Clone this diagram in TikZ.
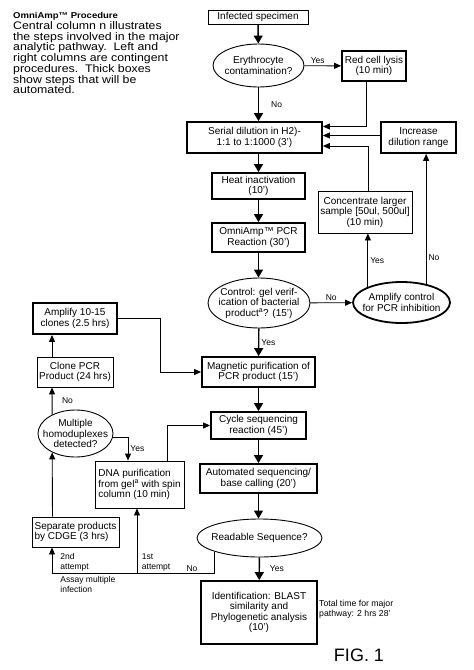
\documentclass[tikz,border=0pt]{standalone}
\usepackage{fontspec}
\setmainfont{Liberation Sans}
\newfontfamily\notefont{Liberation Sans}[FakeStretch=1.12]
\usetikzlibrary{shapes}
\usetikzlibrary{arrows.meta}

\begin{document}
\begin{tikzpicture}[x=1pt,y=-1pt]
\tikzstyle{every node}=[font=\fontsize{10}{10.5}\selectfont,inner sep=0pt,align=center]
\tikzstyle{plainbox}=[draw,line width=0.9pt]
\tikzstyle{autobox}=[draw,line width=1.8pt]
\tikzstyle{askoval}=[ellipse,draw,line width=0.9pt,inner xsep=-8pt,inner ysep=-3pt]
\tikzstyle{lbl}=[font=\fontsize{8.5}{10}\selectfont,inner sep=2pt]
\tikzstyle{mainarr}=[line width=1.4pt,-{Triangle[length=8pt,width=9pt]}]
\tikzstyle{sidearr}=[line width=0.9pt,-{Triangle[length=7pt,width=6pt]}]
\useasboundingbox (0,0) rectangle (474,670);
% note at top left
\node[anchor=north west,align=left,font=\notefont\fontsize{11}{10.7}\selectfont] (note) at (13,12.5) {\textbf{\fontsize{8.5}{10.7}\selectfont OmniAmp™ Procedure}\\Central column n illustrates\\the steps involved in the major\\analytic pathway.\ \ Left and\\right columns are contingent\\procedures.\ \ Thick boxes\\show steps that will be\\automated.};
% central column
\node[plainbox,minimum width=100,minimum height=14] (spec) at (258,17) {Infected specimen};
\node[askoval,minimum width=91,minimum height=43] (eryth) at (258.5,65.5) {Erythrocyte\\contamination?};
\node[autobox,minimum width=113,minimum height=30] (magn) at (258.5,372) {Magnetic purification of\\PCR product (15’)};
\node[autobox,minimum width=135,minimum height=31] (serial) at (254.5,137.5) {Serial dilution in H2)-\\1:1 to 1:1000 (3’)};
\node[autobox,minimum width=93,minimum height=26] (heat) at (258.5,186) {Heat inactivation\\(10’)};
\node[autobox,minimum width=93,minimum height=29] (pcr) at (258.5,237.5) {OmniAmp™ PCR\\Reaction (30’)};
\node[askoval,minimum width=102,minimum height=50] (ctrl) at (259,303) {Control: gel verif-\\ication of bacterial\\product\textsuperscript{a}? (15’)};
\node[autobox,minimum width=95,minimum height=27] (cycle) at (258.5,425.5) {Cycle sequencing\\reaction (45’)};
\node[autobox,minimum width=117,minimum height=29] (auto) at (258.5,478.5) {Automated sequencing/\\base calling (20’)};
\node[askoval,minimum width=125,minimum height=38] (read) at (259.5,538) {Readable Sequence?};
\node[autobox,minimum width=116,minimum height=63] (ident) at (259,612.5) {Identification: BLAST\\similarity and\\Phylogenetic analysis\\(10’)};
% right column
\node[autobox,minimum width=64,minimum height=30] (lysis) at (374,66) {Red cell lysis\\(10 min)};
\node[autobox,minimum width=75,minimum height=31] (incr) at (418.5,137.5) {Increase\\dilution range};
\node[plainbox,minimum width=94,minimum height=42] (conc) at (365,212) {Concentrate larger\\sample [50ul, 500ul]\\(10 min)};
\node[askoval,line width=1.8pt,minimum width=97,minimum height=41] (ampc) at (401.5,302.5) {Amplify control\\for PCR inhibition};
% left column
\node[autobox,minimum width=84,minimum height=31] (clones) at (75,318.5) {Amplify 10-15\\clones (2.5 hrs)};
\node[plainbox,minimum width=76,minimum height=30] (clone) at (75,372) {Clone PCR\\Product (24 hrs)};
\node[askoval,minimum width=75,minimum height=47] (mult) at (75.5,433.5) {Multiple\\homoduplexes\\detected?};
\node[plainbox,minimum width=89,minimum height=47,align=left] (dna) at (139.5,484.5) {DNA purification\\from gel\textsuperscript{a} with spin\\column (10 min)};
\node[plainbox,minimum width=87,minimum height=30,align=left] (sep) at (75.5,532) {Separate products\\by CDGE (3 hrs)};
\coordinate (dnafoot) at ([xshift=-2.5pt]dna.south);
% notes at bottom
\node[lbl,align=left,anchor=west,font=\fontsize{8.7}{10}\selectfont] (total) at (317,609) {Total time for major\\pathway: 2 hrs 28’};
\node[font=\fontsize{18}{18}\selectfont] (fig) at (359,655) {FIG. 1};
% connectors
\draw[mainarr] (spec) -- (eryth);
\draw[mainarr] (eryth) -- node[lbl,right,xshift=10]{No} (eryth.south |- serial.north);
\draw[sidearr] (eryth) -- node[lbl,above,xshift=-5]{Yes} (lysis);
\draw[sidearr] ([xshift=-8pt]lysis.south) |- ([yshift=11pt]serial.east);
\draw[sidearr] ([yshift=2pt]incr.west) -- ([yshift=2pt]serial.east);
\draw[sidearr] ([xshift=3pt]conc.north) |- ([yshift=-8.5pt]serial.east);
\draw[mainarr] (serial.south -| heat) -- (heat);
\draw[mainarr] (heat) -- (pcr);
\draw[mainarr] (pcr.south) -- (pcr.south |- ctrl.north);
\draw[sidearr] (ctrl) -- node[lbl,above]{No} (ampc);
\draw[mainarr] (ctrl) -- node[lbl,right]{Yes} (magn);
\draw[sidearr] (ampc.155) -- node[lbl,right]{Yes} (ampc.155 |- conc.south);
\draw[sidearr] (ampc.37) -- node[lbl,right,pos=0.2]{No} (ampc.37 |- incr.south);
\draw[mainarr] (magn) -- (cycle);
\draw[mainarr] (cycle) -- (auto);
\draw[mainarr] (auto) -- (auto |- read.north);
\draw[mainarr] (read) -- node[lbl,right,xshift=8]{Yes} (ident);
\draw[sidearr] (clones.east) -- ++(43,0) |- (magn.west);
\draw[sidearr] ([xshift=-23pt]clone.north) -- ([xshift=-23pt]clones.south);
\draw[sidearr] (mult.141) -- node[lbl,right,xshift=7.5]{No} ([xshift=-23pt]clone.south);
\draw[sidearr] ([xshift=-23pt]sep.north) -- (mult.219);
\draw[sidearr] (mult.-6) -| node[lbl,right,pos=0.75]{Yes} ([xshift=-11.5pt]dna.north);
\draw[sidearr] ([xshift=27.5pt]dna.north) |- (cycle.west);
\draw[sidearr] (read.197) -- ++(0,22) coordinate (nobase) -| node[lbl,pos=0.07,above]{No} node[lbl,pos=0.5,anchor=south west,xshift=6,align=left]{2nd\\attempt} node[lbl,pos=0.5,anchor=north west,xshift=6,align=left]{Assay multiple\\infection} ([xshift=-23.5pt]sep.south);
\draw[sidearr] (nobase -| dnafoot) node[lbl,anchor=south west,xshift=2.5,align=left]{1st\\attempt} -- (dnafoot);
\end{tikzpicture}
\end{document}
